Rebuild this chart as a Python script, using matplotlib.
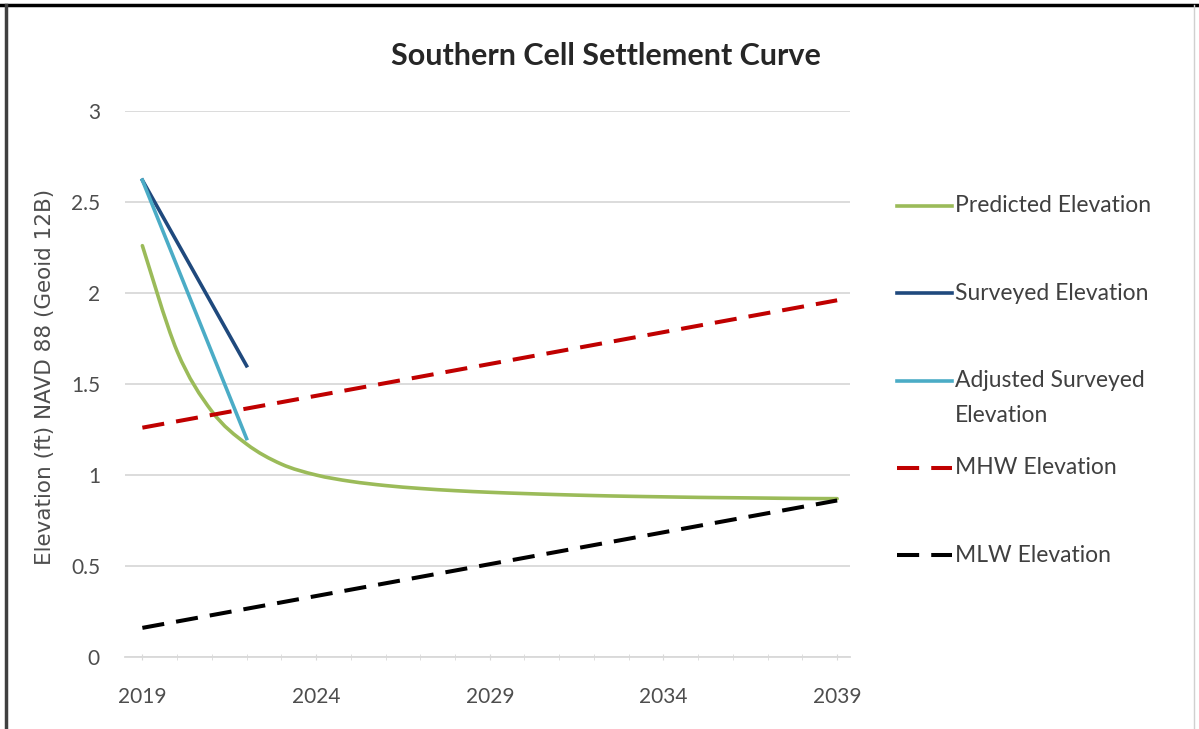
import matplotlib
matplotlib.use("Agg")
import matplotlib.pyplot as plt
from matplotlib.lines import Line2D
from matplotlib.path import Path
from matplotlib.patches import PathPatch

# Data
years = list(range(2019, 2040))
predicted = [2.26, 1.68, 1.35, 1.17, 1.06, 1.00, 0.965, 0.942, 0.926, 0.914, 0.905,
             0.898, 0.892, 0.887, 0.883, 0.880, 0.877, 0.875, 0.873, 0.871, 0.870]
survey_years = [2019, 2022]
surveyed = [2.62, 1.60]
adjusted = [2.62, 1.20]
tide_years = [2019, 2039]
mhw = [1.26, 1.96]
mlw = [0.16, 0.86]

yticks = [0, 0.5, 1, 1.5, 2, 2.5, 3]
ytick_labels = ["0", "0.5", "1", "1.5", "2", "2.5", "3"]
xticks = [2019, 2024, 2029, 2034, 2039]

green = "#9BBB59"
navy = "#1F497D"
cyan = "#4BACC6"
red = "#C00000"
grey_txt = "#4D4D4D"
grid_c = "#D9D9D9"

W, H = 1199, 729
fig = plt.figure(figsize=(W / 100, H / 100), dpi=100)
ax = fig.add_axes([125 / W, 72 / H, 725 / W, 546 / H])


def smooth_path(xs, ys):
    # excel style smoothed line: catmull-rom turned into bezier segments
    pts = list(zip(xs, ys))
    verts = [pts[0]]
    codes = [Path.MOVETO]
    for i in range(len(pts) - 1):
        p0 = pts[max(i - 1, 0)]
        p1 = pts[i]
        p2 = pts[i + 1]
        p3 = pts[min(i + 2, len(pts) - 1)]
        c1 = (p1[0] + (p2[0] - p0[0]) / 6, p1[1] + (p2[1] - p0[1]) / 6)
        c2 = (p2[0] - (p3[0] - p1[0]) / 6, p2[1] - (p3[1] - p1[1]) / 6)
        verts += [c1, c2, p2]
        codes += [Path.CURVE4] * 3
    return Path(verts, codes)


ax.add_patch(PathPatch(smooth_path(years, predicted), facecolor="none",
                       edgecolor=green, lw=2.6, capstyle="round", zorder=3))
ax.plot(survey_years, surveyed, color=navy, lw=2.6, zorder=4)
ax.plot(survey_years, adjusted, color=cyan, lw=2.6, zorder=4)
ax.plot(tide_years, mhw, color=red, lw=2.9, dashes=(5.5, 3), zorder=3)
ax.plot(tide_years, mlw, color="black", lw=2.9, dashes=(5.5, 3), zorder=3)

ax.set_xlim(2018.5, 2039.37)
ax.set_ylim(0, 3)
ax.set_yticks(yticks)
ax.set_yticklabels(ytick_labels)
ax.set_xticks(xticks)
ax.set_xticks(years, minor=True)
ax.grid(axis="y", color=grid_c, lw=1.3)
ax.set_axisbelow(True)
for s in ["top", "right", "left"]:
    ax.spines[s].set_visible(False)
ax.spines["bottom"].set_color(grid_c)
ax.spines["bottom"].set_linewidth(1.3)
ax.tick_params(axis="y", length=0, pad=18, labelsize=15, labelcolor=grey_txt)
ax.tick_params(axis="x", which="both", direction="inout", length=5,
               color=grid_c, pad=19, labelsize=15, labelcolor=grey_txt)
for lab in ax.get_xticklabels() + ax.get_yticklabels():
    lab.set_fontfamily("Lato")

fig.text(606 / W, 1 - 56 / H, "Southern Cell Settlement Curve", ha="center",
         va="center", fontsize=22, fontweight="bold", color="#262626",
         family="Lato")
fig.text(45 / W, 1 - 377 / H, "Elevation (ft) NAVD 88 (Geoid 12B)",
         rotation=90, ha="center", va="center", fontsize=15.5, color=grey_txt,
         family="DejaVu Sans")

# legend on the right, drawn by hand to keep excel spacing
legend_items = [
    ("Predicted Elevation", green, None),
    ("Surveyed Elevation", navy, None),
    ("Adjusted Surveyed\nElevation", cyan, None),
    ("MHW Elevation", red, (5.5, 3)),
    ("MLW Elevation", "black", (5.5, 3)),
]
for i, (label, col, dash) in enumerate(legend_items):
    yy = 1 - (206 + i * 87.3) / H
    ln = Line2D([897 / W, 952 / W], [yy, yy], transform=fig.transFigure,
                color=col, lw=2.9 if dash else 2.6)
    if dash:
        ln.set_dashes(dash)
    fig.add_artist(ln)
    fig.text(955 / W, yy, label.split("\n")[0], va="center", ha="left",
             fontsize=16.5, color="#404040", family="Lato")
    if "\n" in label:
        fig.text(955 / W, yy - 35 / H, label.split("\n")[1], va="center",
                 ha="left", fontsize=16.5, color="#404040", family="Lato")

# frame around the picture
fig.add_artist(Line2D([0, 1], [1 - 5 / H, 1 - 5 / H], transform=fig.transFigure,
                      color="black", lw=2.5))
fig.add_artist(Line2D([6 / W, 6 / W], [0, 1 - 5 / H], transform=fig.transFigure,
                      color="#404040", lw=2.5))
fig.add_artist(Line2D([1194 / W, 1194 / W], [0, 1 - 5 / H],
                      transform=fig.transFigure, color="#D0D0D0", lw=1))

fig.savefig("out.png", dpi=100)
